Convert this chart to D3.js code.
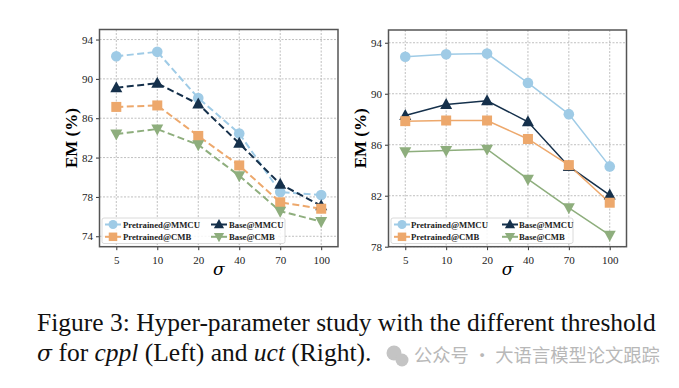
<!DOCTYPE html>
<html>
<head>
<meta charset="utf-8">
<script src="https://cdn.jsdelivr.net/npm/d3@7"></script>
<style>
  body { margin: 0; background: #fff; }
  svg { display: block; }
</style>
</head>
<body>
<div id="chart"></div>
<script>
const sigmas = ['5', '10', '20', '40', '70', '100'];
const seriesNames = ['Pretrained@MMCU', 'Base@MMCU', 'Pretrained@CMB', 'Base@CMB'];

// left panel (cppl)
const leftPretrainedMMCU = [92.3, 92.75, 88.05, 84.45, 78.5, 78.2];
const leftBaseMMCU = [89.1, 89.55, 87.45, 83.45, 79.3, 77.1];
const leftPretrainedCMB = [87.15, 87.3, 84.2, 81.2, 77.45, 76.8];
const leftBaseCMB = [84.4, 84.9, 83.3, 80.15, 76.55, 75.5];
const leftYTicks = [74, 78, 82, 86, 90, 94];

// right panel (uct)
const rightPretrainedMMCU = [92.9, 93.1, 93.15, 90.85, 88.4, 84.3];
const rightBaseMMCU = [88.3, 89.15, 89.45, 87.8, 84.3, 82.05];
const rightPretrainedCMB = [87.85, 87.9, 87.9, 86.45, 84.4, 81.45];
const rightBaseCMB = [85.45, 85.55, 85.65, 83.3, 81.05, 78.9];
const rightYTicks = [78, 82, 86, 90, 94];

const colors = {
  'Pretrained@MMCU': '#9fcbe6',
  'Base@MMCU': '#15304b',
  'Pretrained@CMB': '#eda86c',
  'Base@CMB': '#8eae7d',
};
const symbols = {
  'Pretrained@MMCU': 'circle',
  'Base@MMCU': 'up',
  'Pretrained@CMB': 'square',
  'Base@CMB': 'down',
};

const width = 679;
const height = 388;
const serif = '"Liberation Serif", "Times New Roman", serif';
const greek = '"DejaVu Serif", serif';

const svg = d3.select('#chart').append('svg')
  .attr('width', width)
  .attr('height', height);

function marker(sel, kind, color) {
  if (kind === 'circle') {
    sel.append('circle').attr('r', 5.3).attr('fill', color);
  } else if (kind === 'square') {
    sel.append('rect').attr('x', -5).attr('y', -5).attr('width', 10).attr('height', 10).attr('fill', color);
  } else if (kind === 'up') {
    sel.append('path').attr('d', 'M0,-6.5L6,4.5L-6,4.5Z').attr('fill', color);
  } else {
    sel.append('path').attr('d', 'M0,6.5L6,-4.5L-6,-4.5Z').attr('fill', color);
  }
}

function drawPanel(box, yDomain, yTicks, data, dashed, legendPos) {
  const x = d3.scalePoint().domain(sigmas).range([box.left, box.right]).padding(0.41);
  const y = d3.scaleLinear().domain(yDomain).range([box.bottom, box.top]);
  const g = svg.append('g');

  // grid
  g.append('g').selectAll('line.vg').data(sigmas).join('line')
    .attr('x1', (d) => x(d)).attr('x2', (d) => x(d))
    .attr('y1', box.top).attr('y2', box.bottom)
    .attr('stroke', '#b0b0b0').attr('stroke-width', 0.8).attr('stroke-dasharray', '2,1.5');
  g.append('g').selectAll('line.hg').data(yTicks).join('line')
    .attr('x1', box.left).attr('x2', box.right)
    .attr('y1', (d) => y(d)).attr('y2', (d) => y(d))
    .attr('stroke', '#b0b0b0').attr('stroke-width', 0.8).attr('stroke-dasharray', '2,1.5');

  // axes
  const xAxis = g.append('g')
    .attr('transform', `translate(0,${box.bottom})`)
    .call(d3.axisBottom(x).tickSize(3.5).tickSizeOuter(0));
  const yAxis = g.append('g')
    .attr('transform', `translate(${box.left},0)`)
    .call(d3.axisLeft(y).tickValues(yTicks).tickSize(3.5).tickSizeOuter(0));
  [xAxis, yAxis].forEach((a) => {
    a.select('.domain').remove();
    a.selectAll('text').attr('font-family', serif).attr('font-size', 11).attr('fill', '#222');
    a.selectAll('.tick line').attr('stroke', '#333');
  });
  xAxis.selectAll('text').attr('dy', '1.0em');

  // lines
  const line = d3.line().x((d, i) => x(sigmas[i])).y((d) => y(d));
  seriesNames.forEach((name) => {
    g.append('path')
      .datum(data[name])
      .attr('fill', 'none')
      .attr('stroke', colors[name])
      .attr('stroke-width', dashed ? 2 : 1.5)
      .attr('stroke-dasharray', dashed ? '7,3.5' : null)
      .attr('d', line);
  });
  seriesNames.forEach((name) => {
    g.append('g').selectAll('g').data(data[name]).join('g')
      .attr('transform', (d, i) => `translate(${x(sigmas[i])},${y(d)})`)
      .each(function () { marker(d3.select(this), symbols[name], colors[name]); });
  });

  // frame
  g.append('rect')
    .attr('x', box.left).attr('y', box.top)
    .attr('width', box.right - box.left).attr('height', box.bottom - box.top)
    .attr('fill', 'none').attr('stroke', '#555').attr('stroke-width', 1.5);

  // legend
  const lg = g.append('g').attr('transform', `translate(${legendPos.x},${legendPos.y})`);
  lg.append('rect')
    .attr('width', legendPos.w).attr('height', 25.5).attr('rx', 2)
    .attr('fill', 'rgba(255,255,255,0.85)').attr('stroke', '#d0d0d0').attr('stroke-width', 0.8);
  const order = ['Pretrained@MMCU', 'Pretrained@CMB', 'Base@MMCU', 'Base@CMB'];
  order.forEach((name, i) => {
    const col = Math.floor(i / 2);
    const row = i % 2;
    const item = lg.append('g')
      .attr('transform', `translate(${legendPos.cols[col]},${6.5 + row * 12.3})`);
    item.append('line').attr('x1', -8).attr('x2', 8)
      .attr('stroke', colors[name]).attr('stroke-width', 2);
    const m = item.append('g').attr('transform', 'scale(0.85)');
    marker(m, symbols[name], colors[name]);
    item.append('text')
      .attr('x', legendPos.textOffset).attr('dy', '0.35em')
      .attr('font-family', serif).attr('font-weight', 'bold').attr('font-size', 8.7)
      .attr('fill', '#222')
      .text(name);
  });

  // axis labels
  svg.append('text')
    .attr('transform', `translate(${box.left - 28},${(box.top + box.bottom) / 2}) rotate(-90)`)
    .attr('text-anchor', 'middle').attr('dy', '0.35em')
    .attr('font-family', serif).attr('font-weight', 'bold').attr('font-size', 17)
    .text('EM (%)');
  svg.append('text')
    .attr('x', (box.left + box.right) / 2).attr('y', box.bottom + 28)
    .attr('text-anchor', 'middle')
    .attr('font-family', greek).attr('font-style', 'italic').attr('font-size', 17)
    .text('σ');
}

drawPanel(
  { left: 99.5, right: 338, top: 29.5, bottom: 246.7 },
  [72.94, 95.02], leftYTicks,
  {
    'Pretrained@MMCU': leftPretrainedMMCU,
    'Base@MMCU': leftBaseMMCU,
    'Pretrained@CMB': leftPretrainedCMB,
    'Base@CMB': leftBaseCMB,
  },
  true,
  { x: 102, y: 218, w: 183, cols: [11, 117], textOffset: 10 },
);

drawPanel(
  { left: 388.5, right: 626.5, top: 30, bottom: 246.7 },
  [78, 95], rightYTicks,
  {
    'Pretrained@MMCU': rightPretrainedMMCU,
    'Base@MMCU': rightBaseMMCU,
    'Pretrained@CMB': rightPretrainedCMB,
    'Base@CMB': rightBaseCMB,
  },
  false,
  { x: 391, y: 218, w: 182, cols: [11, 119], textOffset: 9 },
);

// caption
const cap = svg.append('g').attr('font-family', serif).attr('font-size', 25.5).attr('fill', '#111');
cap.append('text').attr('x', 37).attr('y', 331)
  .text('Figure 3: Hyper-parameter study with the different threshold');
const line2 = cap.append('text').attr('x', 37).attr('y', 361);
line2.append('tspan').attr('font-family', greek).attr('font-style', 'italic').attr('font-size', 22).text('σ');
line2.append('tspan').text(' for ');
line2.append('tspan').attr('font-style', 'italic').text('cppl');
line2.append('tspan').text(' (Left) and ');
line2.append('tspan').attr('font-style', 'italic').text('uct');
line2.append('tspan').text(' (Right).');

// watermark
const wm = svg.append('g').attr('fill', '#b8b8b8');
wm.append('circle').attr('cx', 394).attr('cy', 353).attr('r', 7.5).attr('fill', '#c4c4c4');
wm.append('circle').attr('cx', 402).attr('cy', 360).attr('r', 6.5).attr('fill', '#c4c4c4');
wm.append('text').attr('x', 414).attr('y', 362)
  .attr('font-family', '"Noto Sans CJK SC", sans-serif').attr('font-size', 18.3)
  .text('公众号 · 大语言模型论文跟踪');
</script>
</body>
</html>
